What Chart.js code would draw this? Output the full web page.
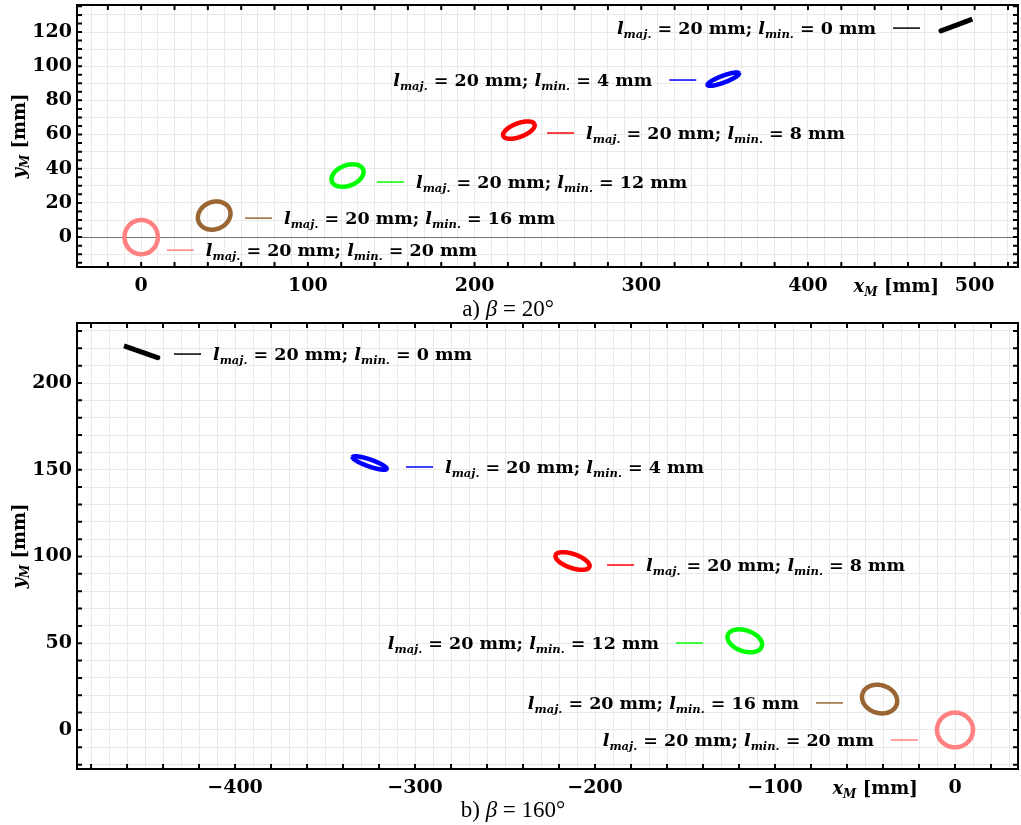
<!DOCTYPE html>
<html>
<head>
<meta charset="utf-8">
<script src="https://cdn.jsdelivr.net/npm/chart.js@4.4.1/dist/chart.umd.min.js"></script>
<style>
  body { margin: 0; background: #fff; }
  canvas { display: block; }
</style>
</head>
<body>
<canvas id="topChart" width="1021" height="320"></canvas>
<canvas id="bottomChart" width="1021" height="505"></canvas>
<script>
// ellipse sizes (mm) and colours, same order in both panels
const minorAxes = [20, 16, 12, 8, 4, 0];
const majorAxis = 20;
const seriesColors = ['#ff8080', '#996633', '#00ff00', '#ff0000', '#0000ff', '#000000'];

// centres of the ellipses, beta = 20 deg
const centerX20 = [0, 43.8, 123.8, 226.6, 349.2, 489.2];
const centerY20 = [0, 12.6, 36.0, 62.6, 92.4, 124.1];
// centres of the ellipses, beta = 160 deg
const centerX160 = [0, -41.9, -116.8, -212.5, -325.2, -452.3];
const centerY160 = [0, 17.8, 51.4, 97.4, 153.9, 218.0];

// where the inline keys sit (data coords of the key line start)
const keyX20 = [15.4, 62.3, 141.5, 243.5, 316.8, 451.0];
const keyY20 = [-7.6, 11.1, 32.2, 60.9, 91.9, 122.3];
const keySide20 = ['right', 'right', 'right', 'right', 'left', 'left'];
const keyX160 = [-35.6, -77.2, -155.0, -193.3, -305.0, -433.9];
const keyY160 = [-5.8, 15.6, 50.1, 95.1, 151.6, 216.7];
const keySide160 = ['left', 'left', 'left', 'right', 'right', 'right'];

const SERIF = '"DejaVu Serif"';
const F_BIG = 'bold 17.5px ' + SERIF;
const F_BIG_I = 'italic bold 17.5px ' + SERIF;
const F_SUB = 'italic bold 11.5px ' + SERIF;

//outline of one ellipse, rotated by beta
function ellipsePoints(cx, cy, a, b, beta) {
    const pts = [];
    const c = Math.cos(beta), s = Math.sin(beta);
    for (let i = 0; i <= 120; i++) {
        const t = i / 120 * 2 * Math.PI;
        const u = a * Math.cos(t), v = b * Math.sin(t);
        pts.push({x: cx + u * c - v * s, y: cy + u * s + v * c});
    }
    return pts;
}

function drawRuns(ctx, runs, x, y, align) {
    let w = 0;
    runs.forEach(r => { ctx.font = r.font; r.w = ctx.measureText(r.text).width; w += r.w; });
    let cx = align === 'right' ? x - w : (align === 'center' ? x - w / 2 : x);
    ctx.textAlign = 'left';
    ctx.textBaseline = 'alphabetic';
    runs.forEach(r => { ctx.font = r.font; ctx.fillText(r.text, cx, y + (r.dy || 0)); cx += r.w; });
}

function minus(v) {
    return v < 0 ? '\u2212' + Math.abs(v) : String(v);
}

//frame round the plot with inward ticks on all four sides
const frameTicks = {
    id: 'frameTicks',
    afterDatasetsDraw(chart, args, o) {
        const {ctx, chartArea: a, scales: {x, y}} = chart;
        ctx.save();
        ctx.strokeStyle = '#000';
        ctx.lineWidth = 2;
        ctx.beginPath();
        for (let v = Math.ceil(x.min / o.xStep) * o.xStep; v <= x.max; v += o.xStep) {
            const px = x.getPixelForValue(v);
            ctx.moveTo(px, a.bottom); ctx.lineTo(px, a.bottom - 5);
            ctx.moveTo(px, a.top); ctx.lineTo(px, a.top + 5);
        }
        for (let v = Math.ceil(y.min / o.yStep) * o.yStep; v <= y.max; v += o.yStep) {
            const py = y.getPixelForValue(v);
            ctx.moveTo(a.left, py); ctx.lineTo(a.left + 5, py);
            ctx.moveTo(a.right, py); ctx.lineTo(a.right - 5, py);
        }
        ctx.stroke();
        ctx.strokeRect(a.left, a.top, a.right - a.left, a.bottom - a.top);
        ctx.restore();
    }
};

//inline key texts, axis titles and caption
const panelText = {
    id: 'panelText',
    afterDraw(chart, args, o) {
        const {ctx, chartArea: a, scales: {x, y}} = chart;
        ctx.save();
        ctx.fillStyle = '#000';
        o.keyX.forEach((kx, i) => {
            const py = y.getPixelForValue(o.keyY[i]) + 6;
            const runs = [
                {text: 'l', font: F_BIG_I},
                {text: 'maj.', font: F_SUB, dy: 4},
                {text: ' = ' + majorAxis + ' mm; ', font: F_BIG},
                {text: 'l', font: F_BIG_I},
                {text: 'min.', font: F_SUB, dy: 4},
                {text: ' = ' + minorAxes[i] + ' mm', font: F_BIG}
            ];
            if (o.keySide[i] === 'right') {
                drawRuns(ctx, runs, x.getPixelForValue(kx + o.keyLen) + 12, py, 'left');
            } else {
                drawRuns(ctx, runs, x.getPixelForValue(kx) - 17, py, 'right');
            }
        });

        // x title sits between the tick labels
        drawRuns(ctx, [
            {text: 'x', font: 'italic bold 18px ' + SERIF},
            {text: 'M', font: 'italic bold 12px ' + SERIF, dy: 4},
            {text: ' [mm]', font: 'bold 18px ' + SERIF}
        ], x.getPixelForValue(o.xTitleAt), a.bottom + 25, 'center');

        // y title, rotated
        ctx.save();
        ctx.translate(25, (a.top + a.bottom) / 2);
        ctx.rotate(-Math.PI / 2);
        drawRuns(ctx, [
            {text: 'y', font: 'italic bold 18px ' + SERIF},
            {text: 'M', font: 'italic bold 12px ' + SERIF, dy: 4},
            {text: ' [mm]', font: 'bold 18px ' + SERIF}
        ], 0, 0, 'center');
        ctx.restore();

        drawRuns(ctx, [
            {text: o.caption[0], font: '23px "Liberation Serif"'},
            {text: '\u03b2', font: 'italic 23px "Liberation Serif"'},
            {text: ' = ' + o.caption[1], font: '23px "Liberation Serif"'}
        ], o.captionX, o.captionY, 'center');
        ctx.restore();
    }
};

function makePanel(id, p) {
    const datasets = [];
    p.cx.forEach((cx, i) => {
        datasets.push({
            data: ellipsePoints(cx, p.cy[i], majorAxis / 2, minorAxes[i] / 2, p.beta * Math.PI / 180),
            borderColor: seriesColors[i],
            borderWidth: minorAxes[i] === 0 ? 5 : 4.5,
            borderJoinStyle: 'round',
            showLine: true,
            pointRadius: 0,
            tension: 0.2 // also keeps Chart.js off its x-sorted fast path
        });
        datasets.push({
            data: [{x: p.keyX[i], y: p.keyY[i]}, {x: p.keyX[i] + p.keyLen, y: p.keyY[i]}],
            borderColor: seriesColors[i],
            borderWidth: 1.5,
            showLine: true,
            pointRadius: 0
        });
    });

    const tickFont = {family: 'DejaVu Serif', size: 19, weight: 'bold'};

    return new Chart(document.getElementById(id), {
        type: 'scatter',
        data: {datasets: datasets},
        options: {
            responsive: false,
            animation: false,
            devicePixelRatio: 1,
            events: [],
            layout: {padding: {top: p.padTop, right: 3, left: 0, bottom: 0}},
            plugins: {
                legend: {display: false},
                tooltip: {enabled: false},
                frameTicks: {xStep: 20, yStep: p.yTickStep},
                panelText: {
                    keyX: p.keyX, keyY: p.keyY, keySide: p.keySide, keyLen: p.keyLen,
                    xTitleAt: p.xTitleAt, caption: p.caption,
                    captionX: p.captionX, captionY: p.captionY
                }
            },
            scales: {
                x: {
                    type: 'linear', min: p.xMin, max: p.xMax,
                    afterFit: s => { s.height = p.xHeight; s.paddingLeft = 0; s.paddingRight = 0; },
                    border: {display: false},
                    grid: {color: '#e9e9e9', drawTicks: false},
                    ticks: {
                        stepSize: 10, includeBounds: false, autoSkip: false, maxRotation: 0,
                        padding: 8, color: '#000', font: tickFont,
                        callback: v => Math.abs(v % 100) < 1e-6 ? minus(Math.round(v)) : ''
                    }
                },
                y: {
                    type: 'linear', min: p.yMin, max: p.yMax,
                    afterFit: s => { s.width = 77; s.paddingTop = 0; s.paddingBottom = 0; },
                    border: {display: false},
                    grid: {
                        drawTicks: false,
                        color: c => (p.zeroLine && c.tick && Math.abs(c.tick.value) < 1e-6) ? '#707070' : '#e9e9e9'
                    },
                    ticks: {
                        stepSize: 10, includeBounds: false, autoSkip: false,
                        padding: 5, color: '#000', font: tickFont,
                        callback: v => Math.abs(v % p.yLabelStep) < 1e-6 ? minus(Math.round(v)) : ''
                    }
                }
            }
        },
        plugins: [frameTicks, panelText]
    });
}

makePanel('topChart', {
    beta: 20, cx: centerX20, cy: centerY20,
    keyX: keyX20, keyY: keyY20, keySide: keySide20, keyLen: 16.2,
    xMin: -38.5, xMax: 526, yMin: -17.5, yMax: 135.8,
    padTop: 5, xHeight: 53, yTickStep: 5, yLabelStep: 20, zeroLine: true,
    xTitleAt: 453, caption: ['a) ', '20\u00b0'], captionX: 508, captionY: 316
});

makePanel('bottomChart', {
    beta: 160, cx: centerX160, cy: centerY160,
    keyX: keyX160, keyY: keyY160, keySide: keySide160, keyLen: 15,
    xMin: -487.8, xMax: 35, yMin: -22.5, yMax: 234.6,
    padTop: 3, xHeight: 56, yTickStep: 10, yLabelStep: 50, zeroLine: false,
    xTitleAt: -44.4, caption: ['b) ', '160\u00b0'], captionX: 513, captionY: 497
});
</script>
</body>
</html>
